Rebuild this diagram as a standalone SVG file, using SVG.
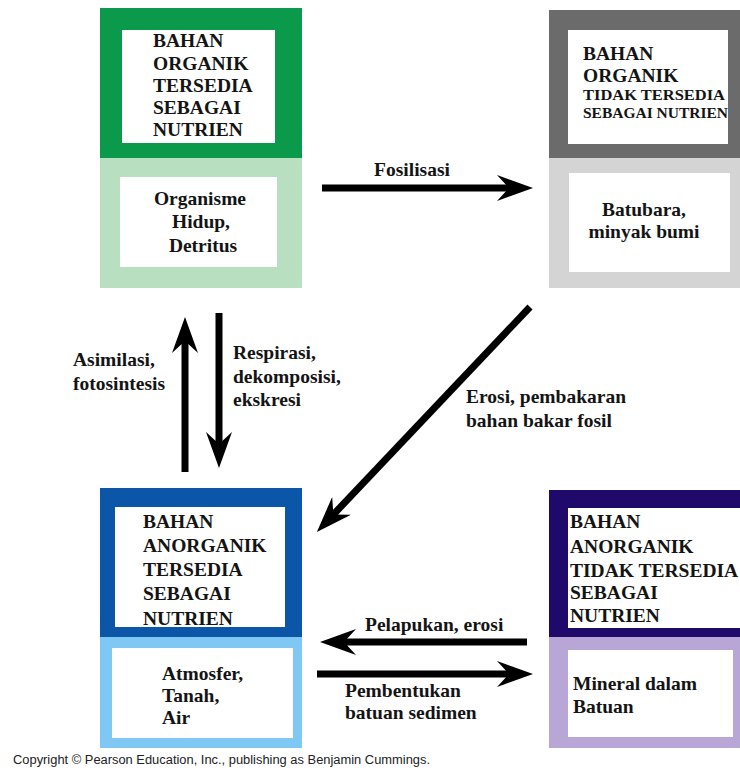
<svg xmlns="http://www.w3.org/2000/svg" width="740" height="773" viewBox="0 0 740 773">
<defs>
<style>
.t{font-family:"Liberation Serif","Times New Roman",serif;font-weight:bold;font-size:19.5px;fill:#141414}
.s{font-size:15.5px}
.c{text-anchor:middle}
.cr{font-family:"Liberation Sans",Arial,sans-serif;font-size:12px;fill:#222}
.ln{stroke:#000;stroke-width:7;fill:none}
.w{fill:#fff}
</style>
<marker id="ah" viewBox="0 0 36 26" refX="14" refY="13" markerWidth="36" markerHeight="26" markerUnits="userSpaceOnUse" orient="auto">
<path d="M0,0 L36,13 L0,26 L12,13 Z" fill="#000"/>
</marker>
</defs>
<rect width="740" height="773" fill="#fff"/>

<g id="organik-tersedia">
<rect x="100" y="8" width="202" height="150" fill="#0b9a4c"/>
<rect x="100" y="158" width="202" height="130" fill="#b9dfc1"/>
<rect class="w" x="122" y="30" width="153" height="113"/>
<rect class="w" x="120" y="177" width="157" height="90"/>
<text class="t" x="153" y="47">BAHAN</text>
<text class="t" x="153" y="70">ORGANIK</text>
<text class="t" x="153" y="92">TERSEDIA</text>
<text class="t" x="153" y="114">SEBAGAI</text>
<text class="t" x="153" y="136">NUTRIEN</text>
<text class="t c" x="200" y="205">Organisme</text>
<text class="t c" x="201" y="228">Hidup,</text>
<text class="t c" x="203" y="252">Detritus</text>
</g>

<g id="organik-tidak-tersedia">
<rect x="549" y="10" width="191" height="148" fill="#6b6b6b"/>
<rect x="549" y="158" width="191" height="130" fill="#d4d4d4"/>
<rect class="w" x="568" y="30" width="160" height="114"/>
<rect class="w" x="569" y="173" width="161" height="99"/>
<text class="t" x="583" y="60">BAHAN</text>
<text class="t" x="583" y="82">ORGANIK</text>
<text class="t s" x="583" y="100" textLength="142" lengthAdjust="spacingAndGlyphs">TIDAK TERSEDIA</text>
<text class="t s" x="583" y="118" textLength="145" lengthAdjust="spacingAndGlyphs">SEBAGAI NUTRIEN</text>
<text class="t c" x="644" y="216">Batubara,</text>
<text class="t c" x="644" y="238">minyak bumi</text>
</g>

<g id="anorganik-tersedia">
<rect x="100" y="488" width="202" height="149" fill="#0b56a8"/>
<rect x="100" y="637" width="202" height="111" fill="#80c8f4"/>
<rect class="w" x="115" y="507" width="170" height="120"/>
<rect class="w" x="112" y="648" width="181" height="90"/>
<text class="t" x="143" y="528">BAHAN</text>
<text class="t" x="143" y="552">ANORGANIK</text>
<text class="t" x="143" y="576">TERSEDIA</text>
<text class="t" x="143" y="600">SEBAGAI</text>
<text class="t" x="143" y="625">NUTRIEN</text>
<text class="t" x="162" y="680">Atmosfer,</text>
<text class="t" x="162" y="702">Tanah,</text>
<text class="t" x="162" y="724">Air</text>
</g>

<g id="anorganik-tidak-tersedia">
<rect x="549" y="490" width="191" height="147" fill="#1f0a6c"/>
<rect x="549" y="637" width="191" height="111" fill="#b7a6d6"/>
<rect class="w" x="568" y="508" width="172" height="120"/>
<rect class="w" x="568" y="650" width="165" height="87"/>
<text class="t" x="570" y="528">BAHAN</text>
<text class="t" x="570" y="553">ANORGANIK</text>
<text class="t" x="570" y="577">TIDAK TERSEDIA</text>
<text class="t" x="570" y="599">SEBAGAI</text>
<text class="t" x="570" y="622">NUTRIEN</text>
<text class="t" x="573" y="690">Mineral dalam</text>
<text class="t" x="573" y="713">Batuan</text>
</g>

<g id="connectors">
<line class="ln" x1="322" y1="188" x2="511" y2="188" marker-end="url(#ah)"/>
<line class="ln" x1="185" y1="472" x2="185" y2="339" marker-end="url(#ah)"/>
<line class="ln" x1="219" y1="313" x2="219" y2="446" marker-end="url(#ah)"/>
<line class="ln" x1="530" y1="307" x2="332" y2="516" marker-end="url(#ah)"/>
<line class="ln" x1="527" y1="642" x2="342" y2="642" marker-end="url(#ah)"/>
<line class="ln" x1="317" y1="674" x2="511" y2="674" marker-end="url(#ah)"/>
<text class="t c" x="412" y="176">Fosilisasi</text>
<text class="t" x="73" y="366">Asimilasi,</text>
<text class="t" x="73" y="390">fotosintesis</text>
<text class="t" x="233" y="359">Respirasi,</text>
<text class="t" x="233" y="383">dekomposisi,</text>
<text class="t" x="233" y="406">ekskresi</text>
<text class="t" x="466" y="403">Erosi, pembakaran</text>
<text class="t" x="466" y="427">bahan bakar fosil</text>
<text class="t" x="365" y="631">Pelapukan, erosi</text>
<text class="t" x="345" y="697">Pembentukan</text>
<text class="t" x="345" y="719">batuan sedimen</text>
</g>

<text class="cr" x="13" y="764" textLength="417" lengthAdjust="spacingAndGlyphs">Copyright © Pearson Education, Inc., publishing as Benjamin Cummings.</text>
</svg>
